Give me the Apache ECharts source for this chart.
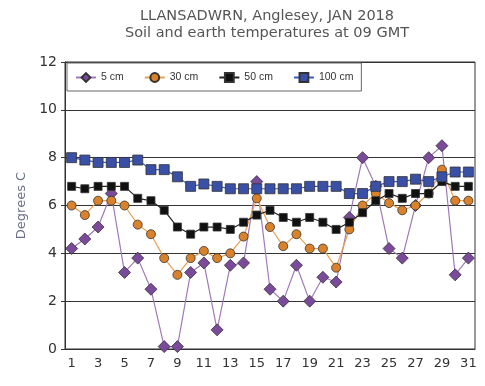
<!DOCTYPE html>
<html><head><meta charset="utf-8">
<script src="https://cdn.jsdelivr.net/npm/echarts@6/dist/echarts.min.js"></script>
<style>html,body{margin:0;padding:0;background:#fff}#c{width:485px;height:386px}</style>
</head><body><div id="c"></div>
<script>
const days = Array.from({length:31},(_,i)=>String(i+1));
const cm5  = [4.2,4.6,5.1,6.5,3.2,3.8,2.5,0.1,0.1,3.2,3.6,0.8,3.5,3.6,7.0,2.5,2.0,3.5,2.0,3.0,2.8,5.5,8.0,6.8,4.2,3.8,6.0,8.0,8.5,3.1,3.8];
const cm30 = [6.0,5.6,6.2,6.2,6.0,5.2,4.8,3.8,3.1,3.8,4.1,3.8,4.0,4.7,6.3,5.1,4.3,4.8,4.2,4.2,3.4,5.0,6.0,6.5,6.1,5.8,6.0,6.5,7.5,6.2,6.2];
const cm50 = [6.8,6.7,6.8,6.8,6.8,6.3,6.2,5.8,5.1,4.8,5.1,5.1,5.0,5.3,5.6,5.8,5.5,5.3,5.5,5.3,5.0,5.3,5.7,6.2,6.5,6.3,6.5,6.5,7.0,6.8,6.8];
const cm100= [8.0,7.9,7.8,7.8,7.8,7.9,7.5,7.5,7.2,6.8,6.9,6.8,6.7,6.7,6.7,6.7,6.7,6.7,6.8,6.8,6.8,6.5,6.5,6.8,7.0,7.0,7.1,7.0,7.2,7.4,7.4];
const names = ['5 cm','30 cm','50 cm','100 cm'];
const yTicks = [0,2,4,6,8,10,12];

const chart = echarts.init(document.getElementById('c'));
function ser(name, data, symbol, size, fill, line){
  return {name, type:'line', data, symbol, symbolSize:size, showSymbol:true, showAllSymbol:true,
    itemStyle:{color:fill, borderColor:'#333', borderWidth:0.8},
    lineStyle:{color:line, width:1.2}, emphasis:{disabled:true}, animation:false};
}
chart.setOption({
  animation:false,
  title:{text:'LLANSADWRN, Anglesey, JAN 2018\nSoil and earth temperatures at 09 GMT',
    left:262, top:3, textAlign:'center',
    textStyle:{fontFamily:'DejaVu Sans', fontSize:14.5, fontWeight:'normal', color:'#555', lineHeight:17}},
  legend:{data:names, left:67, top:63, orient:'horizontal',
    borderColor:'#666', borderWidth:1, padding:[9,8,8,8], itemGap:20,
    itemWidth:20, itemHeight:11,
    textStyle:{fontFamily:'Liberation Sans', fontSize:10.5, color:'#333'}},
  grid:{left:65, right:10, top:62, bottom:37, show:true, borderColor:'#333', borderWidth:1},
  xAxis:{type:'category', data:days, boundaryGap:true,
    axisLine:{lineStyle:{color:'#333'}}, axisTick:{show:false},
    axisLabel:{interval:1, fontFamily:'DejaVu Sans', fontSize:13, color:'#333', margin:8}},
  yAxis:{type:'value', min:yTicks[0], max:yTicks[yTicks.length-1], interval:2,
    name:'Degrees C', nameLocation:'middle', nameGap:30, nameRotate:90,
    nameTextStyle:{fontFamily:'DejaVu Sans', fontSize:13, color:'#6a7089'},
    axisLine:{show:true, lineStyle:{color:'#333'}}, axisTick:{show:true, length:4, lineStyle:{color:'#333'}},
    splitLine:{lineStyle:{color:'#333', width:1}},
    axisLabel:{fontFamily:'DejaVu Sans', fontSize:14, color:'#333', margin:8}},
  series:[
    ser(names[0], cm5, 'diamond', 12, '#7b4a9b', '#a07ab8'),
    ser(names[1], cm30, 'circle', 9, '#d9822b', '#e8a050'),
    ser(names[2], cm50, 'rect', 8, '#111111', '#222222'),
    ser(names[3], cm100, 'rect', 10, '#3a4fa6', '#3a5cc0')
  ]
});
</script></body></html>
